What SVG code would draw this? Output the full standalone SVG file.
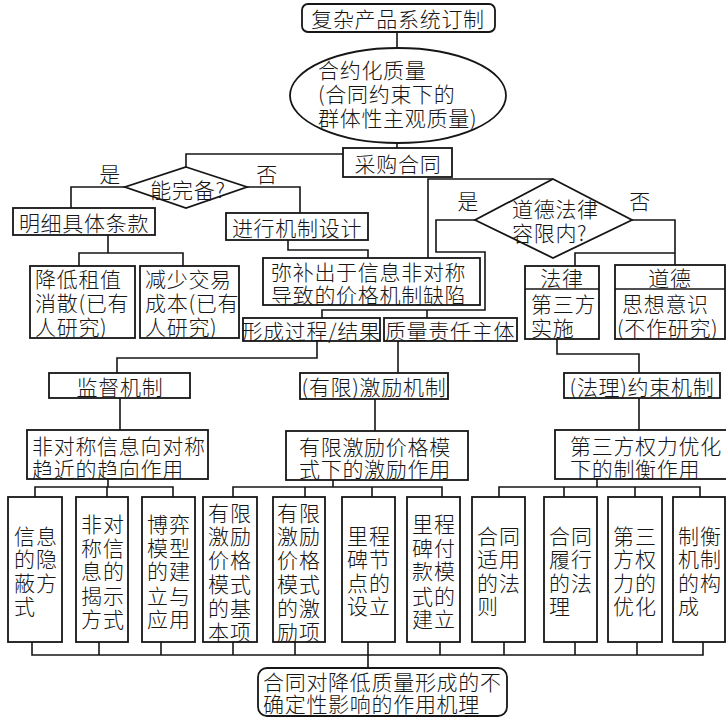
<svg xmlns="http://www.w3.org/2000/svg" width="726" height="718" viewBox="0 0 726 718">
<style>
.box{fill:#fff;stroke:#161616;stroke-width:1.8}
.ln{fill:none;stroke:#161616;stroke-width:1.6}
.t{font-family:"Noto Sans CJK SC","Noto Sans CJK TC",sans-serif;font-size:21px;font-weight:300;fill:#161616;letter-spacing:0.7px;dominant-baseline:central}
.c{text-anchor:middle}
.v{letter-spacing:1px}
</style>
<rect width="726" height="718" fill="#fff"/>
<g id="connectors">
<path class="ln" d="M397,32V48M397,143V148"/>
<path class="ln" d="M343,154H186V167"/>
<path class="ln" d="M125,187H71V208"/>
<path class="ln" d="M247,187H300V213"/>
<path class="ln" d="M108,235V253M79,266V253H183V266"/>
<path class="ln" d="M288,240V250H368V258"/>
<path class="ln" d="M428,258V179H553"/>
<path class="ln" d="M475,220H436V252H485V310H322V318M427,310V318"/>
<path class="ln" d="M632,220H675V265M575,266V253H675"/>
<path class="ln" d="M317,341V358H117V373"/>
<path class="ln" d="M398,341V373"/>
<path class="ln" d="M557,339V354H639V373"/>
<path class="ln" d="M120,398V430M375,399V431M639,398V430"/>
<path class="ln" d="M108,479V487M35,497V487H173V497M107,487V497"/>
<path class="ln" d="M333,480V487M233,497V487H442V497M305,487V497M372,487V497"/>
<path class="ln" d="M597,479V487M499,497V487H700V497M564,487V497M635,487V497"/>
<path class="ln" d="M32,642V655H703V642M99,642V655M161,642V655M233,642V655M295,642V655M368,642V668M440,642V655M504,642V655M575,642V655M637,642V655"/>
</g>
<g id="n-top"><rect class="box" x="302" y="4" width="193" height="28" rx="6"/><text class="t c" x="398" y="18">复杂产品系统订制</text></g>
<g id="n-quality"><ellipse class="box" cx="398" cy="95.5" rx="108" ry="47.5"/><text class="t" x="318" y="69">合约化质量<tspan x="318" y="93">(合同约束下的</tspan><tspan x="318" y="117">群体性主观质量)</tspan></text></g>
<g id="n-contract"><rect class="box" x="343" y="148" width="109" height="29"/><text class="t c" x="398" y="162.5">采购合同</text></g>
<g id="n-complete"><polygon class="box" points="186,167 247,187 186,208 125,187"/><text class="t c" x="188" y="189">能完备?</text><text class="t c" x="110" y="173">是</text><text class="t c" x="267" y="173">否</text></g>
<g id="n-clause"><rect class="box" x="13" y="208" width="142" height="27"/><text class="t c" x="84" y="221.5">明细具体条款</text></g>
<g id="n-design"><rect class="box" x="226" y="213" width="142" height="27"/><text class="t c" x="297" y="226.5">进行机制设计</text></g>
<g id="n-rent"><rect class="box" x="30" y="266" width="105" height="72"/><text class="t" x="35" y="278">降低租值<tspan x="35" y="302">消散(已有</tspan><tspan x="35" y="326">人研究)</tspan></text></g>
<g id="n-cost"><rect class="box" x="140" y="266" width="99" height="72"/><text class="t" x="145" y="278">减少交易<tspan x="145" y="302">成本(已有</tspan><tspan x="145" y="326">人研究)</tspan></text></g>
<g id="n-remedy"><rect class="box" x="263" y="258" width="217" height="47"/><text class="t" x="271" y="271">弥补出于信息非对称<tspan x="271" y="294">导致的价格机制缺陷</tspan></text></g>
<g id="n-moral-law"><polygon class="box" points="553,179 632,220 553,258 475,220"/><text class="t" x="512" y="208">道德法律<tspan x="512" y="232">容限内?</tspan></text><text class="t c" x="468" y="200">是</text><text class="t c" x="640" y="200">否</text></g>
<g id="n-law"><rect class="box" x="525" y="266" width="74" height="73"/><path class="ln" d="M525,289H599"/><text class="t c" x="562" y="277">法律</text><text class="t" x="531" y="303">第三方<tspan x="531" y="327">实施</tspan></text></g>
<g id="n-moral"><rect class="box" x="615" y="265" width="110" height="74"/><path class="ln" d="M615,289H725"/><text class="t c" x="670" y="277">道德</text><text class="t" x="622" y="303">思想意识<tspan x="617" y="327">(不作研究)</tspan></text></g>
<g id="n-process"><rect class="box" x="243" y="318" width="137" height="23"/><text class="t c" x="311" y="329.5">形成过程/结果</text></g>
<g id="n-subject"><rect class="box" x="384" y="318" width="133" height="23"/><text class="t c" x="450" y="329.5">质量责任主体</text></g>
<g id="n-supervise"><rect class="box" x="49" y="373" width="141" height="25"/><text class="t c" x="120" y="385.5">监督机制</text></g>
<g id="n-incentive"><rect class="box" x="300" y="373" width="148" height="26"/><text class="t c" x="374" y="386">(有限)激励机制</text></g>
<g id="n-constraint"><rect class="box" x="564" y="373" width="156" height="25"/><text class="t c" x="642" y="385.5">(法理)约束机制</text></g>
<g id="n-asym"><rect class="box" x="27" y="430" width="181" height="49"/><text class="t" x="32" y="445">非对称信息向对称<tspan x="32" y="468">趋近的趋向作用</tspan></text></g>
<g id="n-limited"><rect class="box" x="286" y="431" width="182" height="49"/><text class="t" x="299" y="446">有限激励价格模<tspan x="299" y="468">式下的激励作用</tspan></text></g>
<g id="n-third"><rect class="box" x="555" y="430" width="172" height="49"/><text class="t" x="570" y="445">第三方权力优化<tspan x="570" y="468">下的制衡作用</tspan></text></g>
<g id="n-b1"><rect class="box" x="8" y="497" width="54" height="145"/><text class="t v" x="14" y="535">信息<tspan x="14" y="558">的隐</tspan><tspan x="14" y="582">蔽方</tspan><tspan x="14" y="605">式</tspan></text></g>
<g id="n-b2"><rect class="box" x="76" y="497" width="52" height="145"/><text class="t v" x="81" y="523">非对<tspan x="81" y="547">称信</tspan><tspan x="81" y="570">息的</tspan><tspan x="81" y="595">揭示</tspan><tspan x="81" y="618">方式</tspan></text></g>
<g id="n-b3"><rect class="box" x="142" y="497" width="53" height="145"/><text class="t v" x="147" y="523">博弈<tspan x="147" y="547">模型</tspan><tspan x="147" y="570">的建</tspan><tspan x="147" y="595">立与</tspan><tspan x="147" y="618">应用</tspan></text></g>
<g id="n-b4"><rect class="box" x="203" y="497" width="54" height="145"/><text class="t v" x="208" y="512">有限<tspan x="208" y="535">激励</tspan><tspan x="208" y="559">价格</tspan><tspan x="208" y="583">模式</tspan><tspan x="208" y="607">的基</tspan><tspan x="208" y="631">本项</tspan></text></g>
<g id="n-b5"><rect class="box" x="273" y="497" width="52" height="145"/><text class="t v" x="277" y="512">有限<tspan x="277" y="535">激励</tspan><tspan x="277" y="559">价格</tspan><tspan x="277" y="583">模式</tspan><tspan x="277" y="607">的激</tspan><tspan x="277" y="631">励项</tspan></text></g>
<g id="n-b6"><rect class="box" x="342" y="497" width="53" height="145"/><text class="t v" x="347" y="535">里程<tspan x="347" y="558">碑节</tspan><tspan x="347" y="582">点的</tspan><tspan x="347" y="605">设立</tspan></text></g>
<g id="n-b7"><rect class="box" x="407" y="497" width="53" height="145"/><text class="t v" x="412" y="523">里程<tspan x="412" y="547">碑付</tspan><tspan x="412" y="570">款模</tspan><tspan x="412" y="595">式的</tspan><tspan x="412" y="618">建立</tspan></text></g>
<g id="n-b8"><rect class="box" x="472" y="497" width="53" height="145"/><text class="t v" x="477" y="535">合同<tspan x="477" y="558">适用</tspan><tspan x="477" y="582">的法</tspan><tspan x="477" y="605">则</tspan></text></g>
<g id="n-b9"><rect class="box" x="544" y="497" width="53" height="145"/><text class="t v" x="549" y="535">合同<tspan x="549" y="558">履行</tspan><tspan x="549" y="582">的法</tspan><tspan x="549" y="605">理</tspan></text></g>
<g id="n-b10"><rect class="box" x="608" y="497" width="54" height="145"/><text class="t v" x="613" y="535">第三<tspan x="613" y="558">方权</tspan><tspan x="613" y="582">力的</tspan><tspan x="613" y="605">优化</tspan></text></g>
<g id="n-b11"><rect class="box" x="673" y="497" width="52" height="145"/><text class="t v" x="678" y="535">制衡<tspan x="678" y="558">机制</tspan><tspan x="678" y="582">的构</tspan><tspan x="678" y="605">成</tspan></text></g>
<g id="n-bottom"><rect class="box" x="258" y="668" width="249" height="48" rx="9"/><text class="t" x="263" y="681">合同对降低质量形成的不<tspan x="263" y="703">确定性影响的作用机理</tspan></text></g>
</svg>
